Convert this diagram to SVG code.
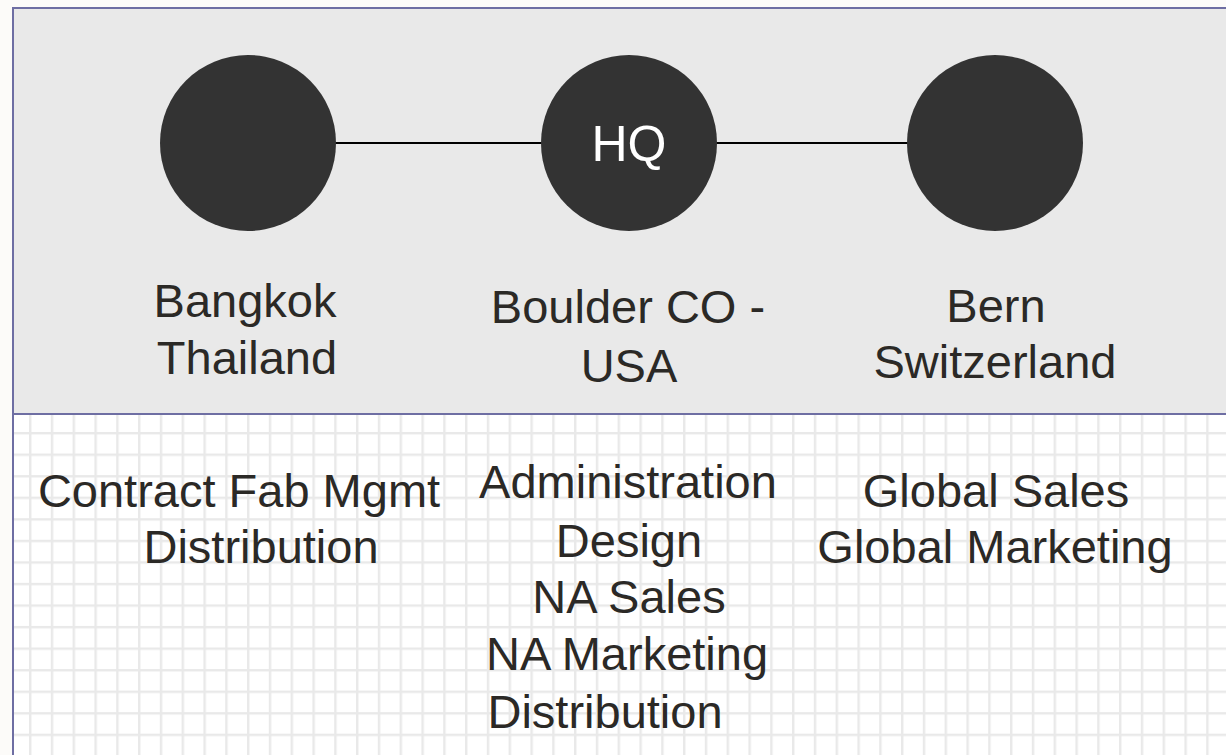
<svg xmlns="http://www.w3.org/2000/svg" width="1226" height="755" viewBox="0 0 1226 755">
<style>
.lbl{font-family:"Liberation Sans",Arial,sans-serif;font-size:47px;fill:#2b2926;text-anchor:middle}
.hq{font-family:"Liberation Sans",Arial,sans-serif;font-size:50px;fill:#ffffff;text-anchor:middle}
.node{fill:#333333}
.conn{stroke:#000000;stroke-width:2;fill:none}
</style>
<defs>
<pattern id="grid" patternUnits="userSpaceOnUse" x="29" y="432" width="21.8" height="21.55">
<rect x="0" y="0" width="21.8" height="21.55" fill="#ffffff"/>
<rect x="0" y="0" width="2.4" height="21.55" fill="#e9e9e9"/>
<rect x="0" y="0" width="21.8" height="2.4" fill="#e9e9e9"/>
</pattern>
</defs>
<rect x="0" y="0" width="1226" height="755" fill="#fcfbf9"/>
<g id="background">
<rect x="13" y="414" width="1215" height="345" fill="url(#grid)"/>
<rect x="13" y="8" width="1215" height="406" fill="#e9e9e9"/>
<line x1="13" y1="414" x2="1226" y2="414" stroke="#6e6ea3" stroke-width="2"/>
<rect x="13" y="8" width="1220" height="755" fill="none" stroke="#6e6ea3" stroke-width="2"/>
</g>
<g id="connectors">
<line class="conn" x1="335" y1="143" x2="542" y2="143"/>
<line class="conn" x1="716" y1="143" x2="908" y2="143"/>
</g>
<g id="node-bangkok">
<circle class="node" cx="248" cy="143" r="88"/>
<text class="lbl" x="245" y="317">Bangkok</text>
<text class="lbl" x="247" y="374">Thailand</text>
</g>
<g id="node-hq">
<circle class="node" cx="629" cy="143" r="88"/>
<text class="hq" x="629" y="161">HQ</text>
<text class="lbl" x="628" y="323">Boulder CO -</text>
<text class="lbl" x="629" y="382">USA</text>
</g>
<g id="node-bern">
<circle class="node" cx="995" cy="143" r="88"/>
<text class="lbl" x="996" y="322">Bern</text>
<text class="lbl" x="995" y="378">Switzerland</text>
</g>
<g id="roles-bangkok">
<text class="lbl" x="239" y="507">Contract Fab Mgmt</text>
<text class="lbl" x="261" y="563">Distribution</text>
</g>
<g id="roles-hq">
<text class="lbl" x="628" y="498">Administration</text>
<text class="lbl" x="629" y="557">Design</text>
<text class="lbl" x="629" y="613">NA Sales</text>
<text class="lbl" x="627" y="670">NA Marketing</text>
<text class="lbl" x="605" y="728">Distribution</text>
</g>
<g id="roles-bern">
<text class="lbl" x="996" y="507">Global Sales</text>
<text class="lbl" x="995" y="563">Global Marketing</text>
</g>
</svg>
